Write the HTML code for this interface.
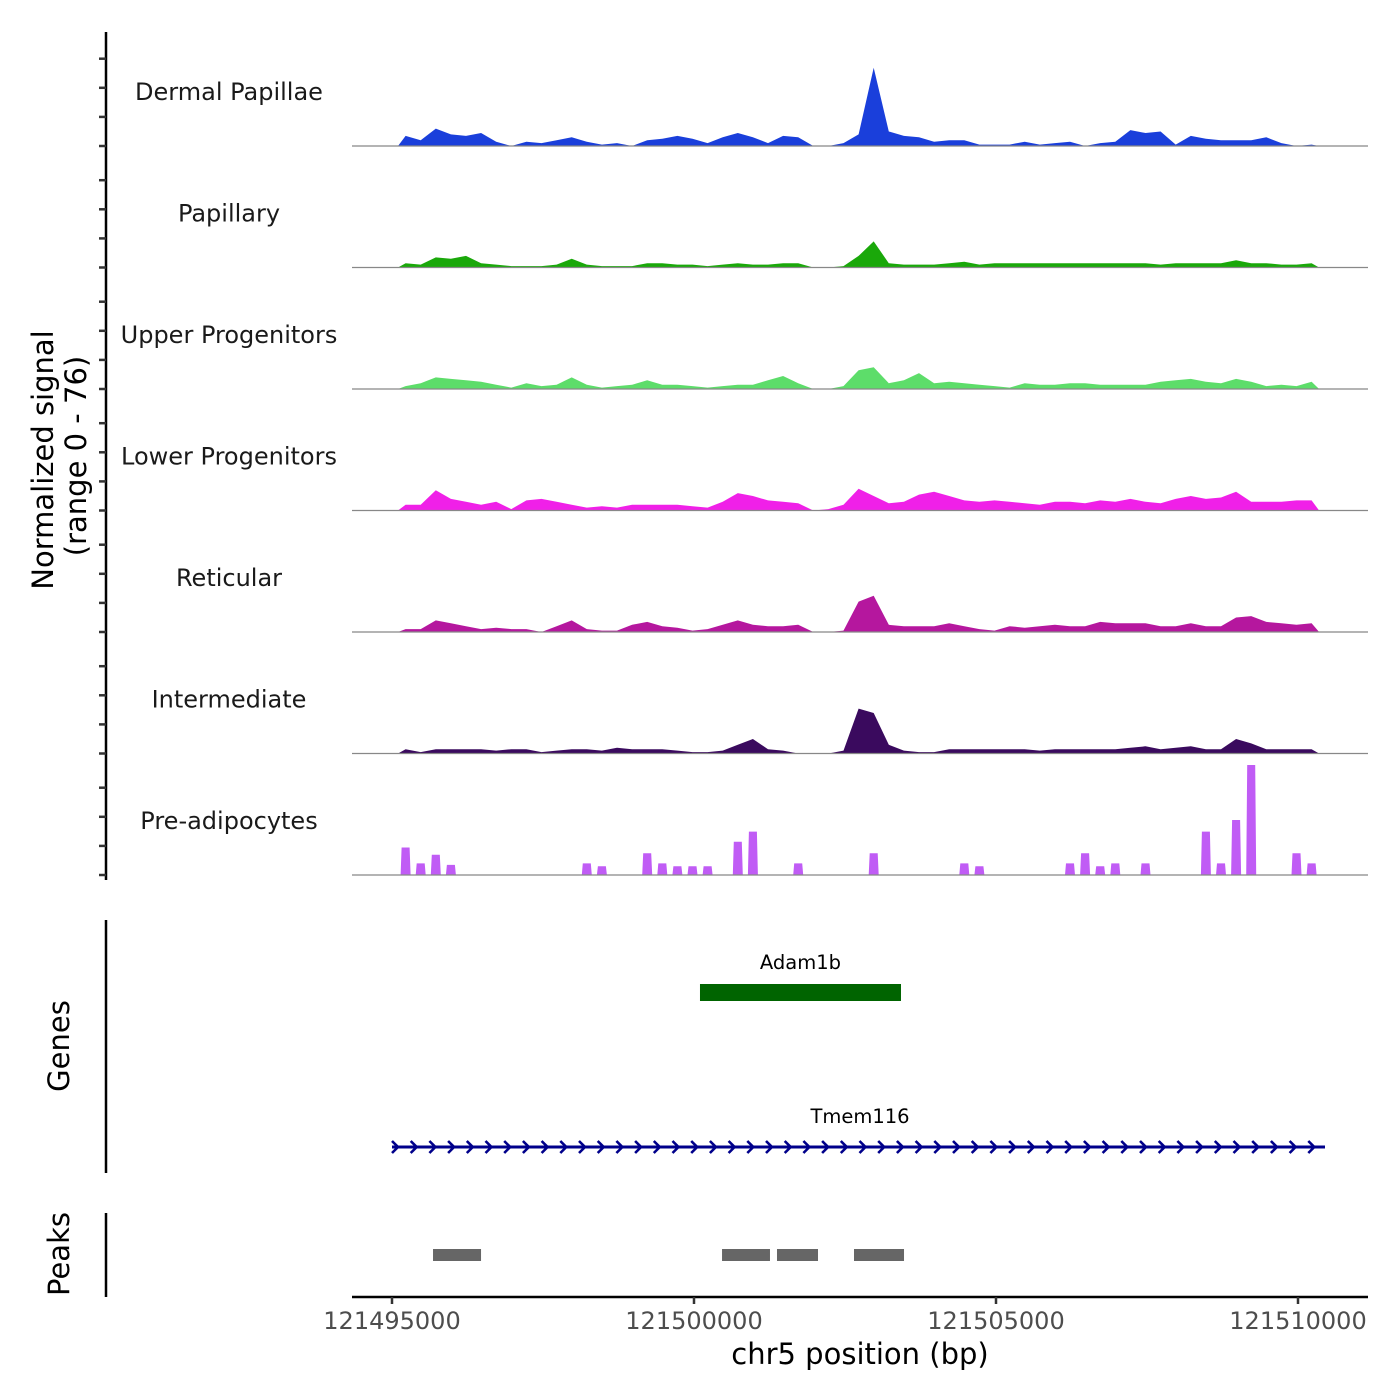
<!DOCTYPE html>
<html><head><meta charset="utf-8">
<style>
html,body{margin:0;padding:0;background:#fff;}
svg{display:block;font-family:"DejaVu Sans","Liberation Sans",sans-serif;}
</style></head>
<body>
<svg id="chart" width="1400" height="1400" viewBox="0 0 1400 1400" xmlns="http://www.w3.org/2000/svg">
<rect width="1400" height="1400" fill="#fff"/>
<g id="tracks"></g>
<g id="yaxis">
  <line x1="106" y1="32" x2="106" y2="880" stroke="#000" stroke-width="2.5"/>
</g>
<text transform="translate(53,460) rotate(-90)" text-anchor="middle" font-size="29" fill="#000">Normalized signal</text>
<text transform="translate(86,456) rotate(-90)" text-anchor="middle" font-size="29" fill="#000">(range 0 - 76)</text>
<g id="genes">
  <line x1="106" y1="920" x2="106" y2="1173" stroke="#000" stroke-width="2.5"/>
  <text transform="translate(69,1046) rotate(-90)" text-anchor="middle" font-size="29">Genes</text>
</g>
<g id="peaks">
  <line x1="106" y1="1213" x2="106" y2="1297" stroke="#000" stroke-width="2.5"/>
  <text transform="translate(69,1254) rotate(-90)" text-anchor="middle" font-size="29">Peaks</text>
</g>
<g id="xaxis">
  <line x1="352" y1="1297" x2="1368" y2="1297" stroke="#000" stroke-width="2.5"/>
</g>
<text x="860" y="1364" text-anchor="middle" font-size="29">chr5 position (bp)</text>
</svg>
<script>
const trackNames = ["Dermal Papillae","Papillary","Upper Progenitors","Lower Progenitors","Reticular","Intermediate","Pre-adipocytes"];
const trackColors = ["#1a3fdb","#1aa80a","#5ddd6a","#f020e8","#b5179e","#3a0a5e","#c05cf5"];
const binStart = 121495100;
const binSize = 250;
const dermal = [7,4,12,8,7,9,3,0,3,2,4,6,3,1,2,0,4,5,7,5,2,6,9,6,2,7,6,0,0,2,8,54,10,7,6,3,4,4,1,1,1,3,1,2,3,0,2,3,11,9,10,1,7,5,4,4,4,6,2,0,1];
const papillary = [3,2,7,6,8,3,2,1,1,1,2,6,2,1,1,1,3,3,2,2,1,2,3,2,2,3,3,0,0,1,8,18,3,2,2,2,3,4,2,3,3,3,3,3,3,3,3,3,3,3,2,3,3,3,3,5,3,3,2,2,3];
const upper = [2,4,8,7,6,5,3,1,4,2,3,8,3,1,2,3,6,3,3,2,1,2,3,3,6,9,4,0,0,2,13,15,4,6,11,4,5,4,3,2,1,4,3,3,4,4,3,3,3,3,5,6,7,5,4,7,5,2,3,2,5];
const lower = [4,4,14,8,6,4,6,1,7,8,6,4,2,3,2,4,4,4,4,3,2,6,12,10,7,6,5,0,1,4,15,10,5,6,11,13,10,7,6,7,6,5,4,6,6,5,7,6,8,6,5,8,10,8,9,13,6,6,6,7,7];
const reticular = [2,2,8,6,4,2,3,2,2,0,4,8,2,1,1,5,7,4,3,1,2,5,8,5,4,4,5,0,0,1,21,25,5,4,4,4,6,4,2,1,4,3,4,5,4,4,7,6,6,6,4,4,6,4,4,10,11,7,6,5,6];
const intermediate = [3,1,3,3,3,3,2,3,3,1,2,3,3,2,4,3,3,3,2,1,1,2,6,10,3,2,0,0,0,2,31,28,6,2,1,1,3,3,3,3,3,3,2,3,3,3,3,3,4,5,3,4,5,3,3,10,7,3,3,3,3];
const preadipo = [19,8,14,7,0,0,0,0,0,0,0,0,8,6,0,0,15,8,6,6,6,0,23,30,0,0,8,0,0,0,0,15,0,0,0,0,0,8,6,0,0,0,0,0,8,15,6,8,0,8,0,0,0,30,8,38,76,0,0,15,8];
const xTicks = [121495000,121500000,121505000,121510000];
const geneNames = ["Adam1b","Tmem116"];
const geneStarts = [121500099,121495000];
const geneEnds = [121503427,121510447];
const peakStarts = [121495679,121500464,121501374,121502649];
const peakEnds = [121496474,121501258,121502053,121503477];

const series = [dermal,papillary,upper,lower,reticular,intermediate,preadipo];
const NS = "http://www.w3.org/2000/svg";
const X0 = 121495000, PX0 = 392, PXPERBP = 302/5000;
function xScale(bp){ return PX0 + (bp - X0)*PXPERBP; }
const yUnit = 110/76;
function yScale(v, base){ return base - v*yUnit; }
const baseFirst = 146, trackH = 121.5;
function mk(tag, attrs, parent){ const e=document.createElementNS(NS,tag); for(const k in attrs) e.setAttribute(k,attrs[k]); parent.appendChild(e); return e; }

const tracksG = document.getElementById('tracks');
const yaxisG = document.getElementById('yaxis');
series.forEach((vals, t) => {
  const base = baseFirst + t*trackH;
  const g = mk('g',{},tracksG);
  
  
  let d = '';
  if (t === 6) {
    vals.forEach((v,i) => {
      if (v <= 0) return;
      const c = xScale(binStart + (i+0.5)*binSize);
      const y = yScale(v, base);
      d += `M${(c-5).toFixed(1)},${base} L${(c-4).toFixed(1)},${y.toFixed(1)} L${(c+4).toFixed(1)},${y.toFixed(1)} L${(c+5).toFixed(1)},${base} Z `;
    });
  } else {
    d = `M${xScale(binStart).toFixed(1)},${base} `;
    vals.forEach((v,i) => {
      const c = xScale(binStart + (i+0.5)*binSize);
      d += `L${c.toFixed(1)},${yScale(v,base).toFixed(1)} `;
    });
    d += `L${xScale(binStart + vals.length*binSize).toFixed(1)},${base} Z`;
  }
  const area = mk('path',{d:d, fill:trackColors[t]},g);
  
  
  const bl = mk('line',{x1:352,y1:base,x2:1368,y2:base,stroke:'#888','stroke-width':1.2},g);
  
  
  const lab = mk('text',{x:229,y:base-46,'text-anchor':'middle','font-size':24,fill:'#1a1a1a'},g);
  lab.textContent = trackNames[t];
  
  
  for (let k=0;k<4;k++){
    const ty = base - k*29.1;
    const tk = mk('line',{x1:99,y1:ty,x2:106,y2:ty,stroke:'#333','stroke-width':2.5},yaxisG);
    
    
  }
});

const xaxisG = document.getElementById('xaxis');
xTicks.forEach(v => {
  const x = xScale(v);
  const tk = mk('line',{x1:x,y1:1297,x2:x,y2:1304,stroke:'#333','stroke-width':2.5},xaxisG);
  
  
  const tl = mk('text',{x:x,y:1329,'text-anchor':'middle','font-size':24,fill:'#4d4d4d'},xaxisG);
  tl.textContent = String(v);
  
  
});

const genesG = document.getElementById('genes');
{
  const x1 = xScale(geneStarts[0]), x2 = xScale(geneEnds[0]);
  const r = mk('rect',{x:x1,y:984,width:x2-x1,height:17,fill:'#006400'},genesG);
  
  
  const l = mk('text',{x:(x1+x2)/2,y:969,'text-anchor':'middle','font-size':19.5,fill:'#000'},genesG);
  l.textContent = geneNames[0];
  
  
}
{
  const x1 = xScale(geneStarts[1]), x2 = xScale(geneEnds[1]);
  const g = mk('g',{},genesG);
  
  
  mk('line',{x1:x1,y1:1147,x2:x2,y2:1147,stroke:'#00008b','stroke-width':3},g);
  let d='';
  for (let x=x1+4; x<=x2+1; x+=18.7){
    d += `M${(x-4).toFixed(1)},${1141} L${(x+2).toFixed(1)},1147 L${(x-4).toFixed(1)},1153 `;
  }
  mk('path',{d:d,stroke:'#00008b','stroke-width':2.6,fill:'none'},g);
  const l = mk('text',{x:860,y:1123,'text-anchor':'middle','font-size':19.5,fill:'#000'},genesG);
  l.textContent = geneNames[1];
  
  
}

const peaksG = document.getElementById('peaks');
peakStarts.forEach((s,i) => {
  const x1 = xScale(s), x2 = xScale(peakEnds[i]);
  const r = mk('rect',{x:x1,y:1249,width:x2-x1,height:12,fill:'#666'},peaksG);
  
  
});
</script>
</body></html>
